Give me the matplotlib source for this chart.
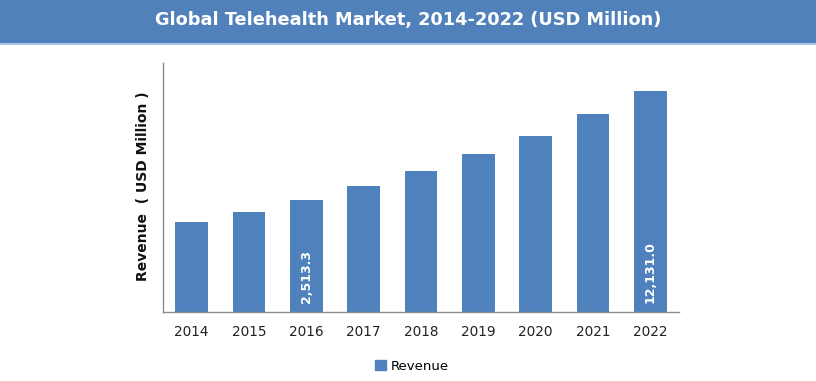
import matplotlib
matplotlib.use("Agg")
import matplotlib.pyplot as plt
from matplotlib.patches import Rectangle

years = ["2014", "2015", "2016", "2017", "2018", "2019", "2020", "2021", "2022"]
revenue = [1830, 2110, 2513.3, 3070, 3820, 4880, 6330, 8690, 12131.0]
labelled = {"2016": "2,513.3", "2022": "12,131.0"}

bar_color = "#4F81BD"
W, H = 816, 381

fig = plt.figure(figsize=(W / 100, H / 100), dpi=100)

# title band across the top
fig.patches.append(Rectangle((0, 1 - 43 / H), 1, 43 / H, transform=fig.transFigure,
                             facecolor="#5181BB", edgecolor="none", zorder=0))
fig.patches.append(Rectangle((0, 1 - 44.5 / H), 1, 1.5 / H, transform=fig.transFigure,
                             facecolor="#A9C4E6", edgecolor="none", zorder=0))
fig.text(0.5, 1 - 20 / H, "Global Telehealth Market, 2014-2022 (USD Million)",
         ha="center", va="center", color="white", fontsize=12.8, fontweight="bold")

ax = fig.add_axes([163 / W, 1 - 312 / H, (679 - 163) / W, (312 - 63) / H])
x = range(len(years))
ax.bar(x, revenue, width=0.575, color=bar_color, zorder=2)
ax.set_yscale("log")
ax.set_ylim(498, 18150)
ax.set_xlim(-0.5, len(years) - 0.5)

for i, yr in enumerate(years):
    if yr in labelled:
        ax.text(i, 0.035, labelled[yr], transform=ax.get_xaxis_transform(),
                rotation=90, ha="center", va="bottom", color="white",
                fontsize=9, fontweight="bold")

ax.set_xticks(list(x))
ax.set_xticklabels(years, fontsize=9.8, color="#222222")
ax.tick_params(axis="x", length=0, pad=9)
ax.set_yticks([])
ax.minorticks_off()
ax.tick_params(axis="y", which="both", left=False, labelleft=False)
for side in ["top", "right"]:
    ax.spines[side].set_visible(False)
for side in ["left", "bottom"]:
    ax.spines[side].set_color("#8C8C8C")
    ax.spines[side].set_linewidth(1.0)

fig.text(143 / W, 1 - 186 / H, "Revenue  ( USD Million )", rotation=90,
         ha="center", va="center", fontsize=10, fontweight="bold", color="#111111")

fig.legend(handles=[Rectangle((0, 0), 1, 1, color=bar_color)], labels=["Revenue"],
           loc="center", bbox_to_anchor=(412 / W, 1 - 366 / H), frameon=False,
           fontsize=9.5, handlelength=0.8, handleheight=0.8, handletextpad=0.4)

fig.savefig("out.png", dpi=100)
